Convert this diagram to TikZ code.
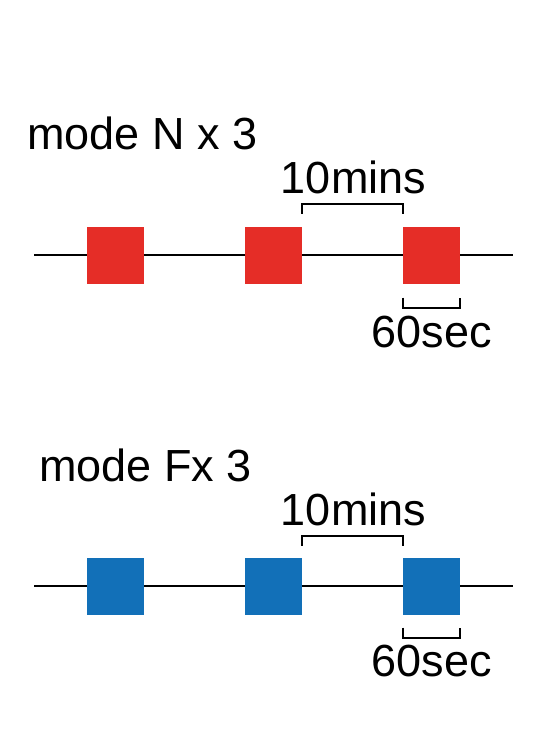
\documentclass[tikz,border=0pt]{standalone}
\usepackage{fontspec}
\setmainfont{Liberation Sans}
\usepackage{tikz}
\usetikzlibrary{
	positioning,
	calc
}
\definecolor{modered}{RGB}{229,45,39}
\definecolor{modeblue}{RGB}{18,112,184}

\begin{document}
\begin{tikzpicture}[
				x=1pt, y=-1pt,
				pulse/.style={
					rectangle, inner sep=0pt, outer sep=0pt,
					minimum size=57pt
				},
				redpulse/.style={
					pulse, fill=modered
				},
				bluepulse/.style={
					pulse, fill=modeblue
				},
				timeline/.style={line width=2pt, black},
				bracket/.style={line width=2pt, black},
				label/.style={
					inner sep=0pt, font=\fontsize{45}{54}\selectfont
				}
				]
				
				\useasboundingbox (0,0) rectangle (538,748);
				
				% mode N title
				\node[label, anchor=base west] (titleN) at (27,149) {mode N x 3};
				
				% mode N pulses
				\node[redpulse] (n1) at (115.5,255) {};
				\node[redpulse, right=101pt of n1] (n2) {};
				\node[redpulse, right=101pt of n2] (n3) {};
				
				% mode N timeline
				\coordinate (startN) at (34,255);
				\coordinate (endN) at (513,255);
				\draw[timeline] (startN) -- (n1);
				\draw[timeline] (n1) -- (n2);
				\draw[timeline] (n2) -- (n3);
				\draw[timeline] (n3) -- (endN);
				
				% mode N interval bracket
				\draw[bracket] ($(n2.north east)+(0,-13)$) -- ++(0,-10)
				  -- ($(n3.north west)+(0,-23)$) -- ++(0,10);
				\node[label, anchor=base] (gapN) at (353.5,193) {10mins};
				
				% mode N duration bracket
				\draw[bracket] ($(n3.south west)+(0,14)$) -- ++(0,10)
				  -- ($(n3.south east)+(0,24)$) -- ++(0,-10);
				\node[label, anchor=base] (lenN) at (431.5,347) {60sec};
				
				% mode F title
				\node[label, anchor=base west] (titleF) at (39,481) {mode Fx 3};
				
				% mode F pulses
				\node[bluepulse] (f1) at (115.5,586) {};
				\node[bluepulse, right=101pt of f1] (f2) {};
				\node[bluepulse, right=101pt of f2] (f3) {};
				
				% mode F timeline
				\coordinate (startF) at (34,586);
				\coordinate (endF) at (513,586);
				\draw[timeline] (startF) -- (f1);
				\draw[timeline] (f1) -- (f2);
				\draw[timeline] (f2) -- (f3);
				\draw[timeline] (f3) -- (endF);
				
				% mode F interval bracket
				\draw[bracket] ($(f2.north east)+(0,-12)$) -- ++(0,-10)
				  -- ($(f3.north west)+(0,-22)$) -- ++(0,10);
				\node[label, anchor=base] (gapF) at (353.5,525) {10mins};
				
				% mode F duration bracket
				\draw[bracket] ($(f3.south west)+(0,13)$) -- ++(0,10)
				  -- ($(f3.south east)+(0,23)$) -- ++(0,-10);
				\node[label, anchor=base] (lenF) at (431.5,676) {60sec};
			\end{tikzpicture}
\end{document}
